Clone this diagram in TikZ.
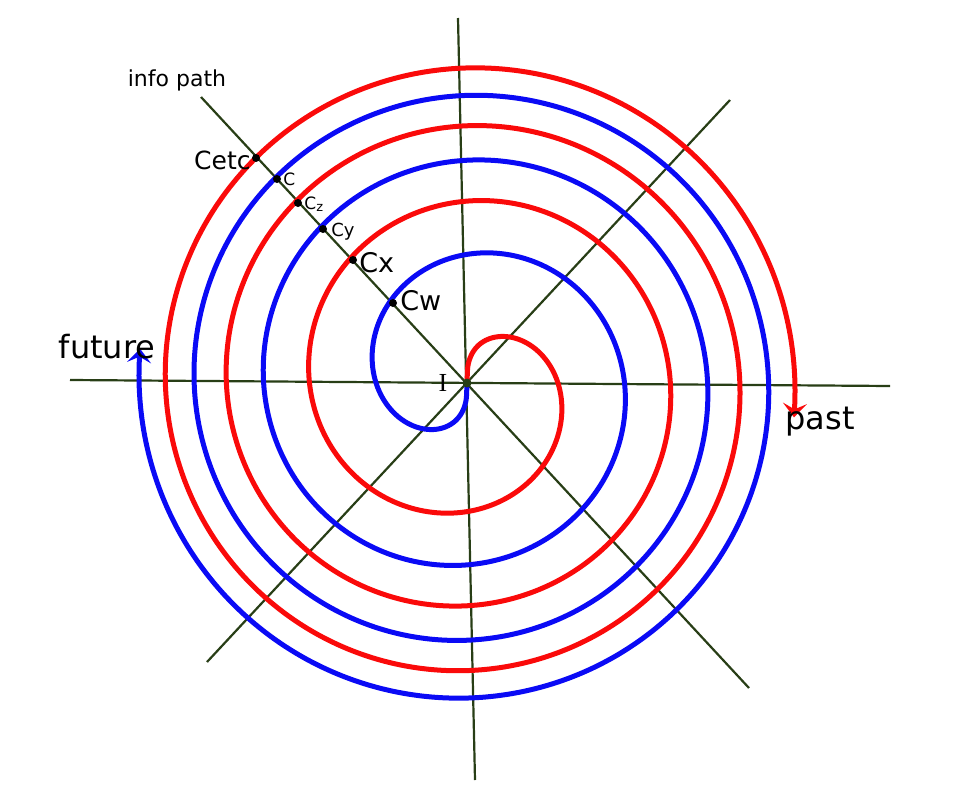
\documentclass[tikz,border=0pt]{standalone}
\usepackage{fontspec}
\setmainfont{DejaVu Sans}
\newfontfamily\serifI{Liberation Serif}
\usetikzlibrary{arrows.meta}
\definecolor{axisgreen}{RGB}{40,62,22}
\definecolor{sred}{RGB}{250,10,10}
\definecolor{sblue}{RGB}{10,10,245}
\tikzset{
  axisline/.style={draw=axisgreen,line width=2.2pt},
  spiral/.style={line width=5pt,smooth,line cap=round,-{Stealth[length=14pt,width=24pt,inset=6pt]}},
  pointdot/.style={circle,fill=black,inner sep=0pt,minimum size=8pt},
  lbl/.style={inner sep=1pt,text=black}
}
\begin{document}
\begin{tikzpicture}[x=1pt,y=-1pt]
\useasboundingbox (0,0) rectangle (978,795);
\coordinate (O) at (467,383);
\coordinate (hl) at (70,380);
\coordinate (hr) at (890,386);
\coordinate (vt) at (458,18);
\coordinate (vb) at (475,780);
\coordinate (d1a) at (201,97);
\coordinate (d1b) at (749,688);
\coordinate (d2a) at (730,100);
\coordinate (d2b) at (207,662);
\draw[axisline] (hl) -- (hr);
\draw[axisline] (vt) -- (vb);
\draw[axisline] (d1a) -- (d1b);
\draw[axisline] (d2a) -- (d2b);
\draw[spiral,sred] plot[domain=0:1176,samples=500] ({467+9.587*sqrt(\x)*cos(\x-90)},{383+9.587*sqrt(\x)*sin(\x-90)});
\draw[spiral,sblue] plot[domain=0:1176,samples=500] ({467+9.587*sqrt(\x)*cos(\x+90)},{383+9.587*sqrt(\x)*sin(\x+90)});
\node[circle,fill=axisgreen,inner sep=0pt,minimum size=9pt] (center) at (O) {};
\node[lbl,font=\serifI\fontsize{26}{26}\selectfont] (I) at (443,383) {I};
\node[pointdot] (pcetc) at (256,158) {};
\node[pointdot] (pc) at (277,179) {};
\node[pointdot] (pcz) at (298,203) {};
\node[pointdot] (pcy) at (323,229) {};
\node[pointdot] (pcx) at (353,260) {};
\node[pointdot] (pcw) at (393,303) {};
\node[lbl,anchor=east,font=\fontsize{25}{25}\selectfont] (tcetc) at ([yshift=-2pt]pcetc.west) {Cetc};
\node[lbl,anchor=west,font=\fontsize{17}{17}\selectfont] (tc) at ([xshift=1pt]pc.east) {C};
\node[lbl,anchor=west,font=\fontsize{17}{17}\selectfont] (tcz) at ([xshift=1pt,yshift=-1pt]pcz.east) {C\raisebox{-2pt}{\fontsize{13}{13}\selectfont z}};
\node[lbl,anchor=west,font=\fontsize{18}{18}\selectfont] (tcy) at ([xshift=3pt,yshift=-3pt]pcy.east) {Cy};
\node[lbl,anchor=west,font=\fontsize{27}{27}\selectfont] (tcx) at ([xshift=1pt,yshift=-3pt]pcx.east) {Cx};
\node[lbl,anchor=west,font=\fontsize{27}{27}\selectfont] (tcw) at ([xshift=2pt,yshift=2pt]pcw.east) {Cw};
\node[lbl,font=\fontsize{22}{22}\selectfont] (info) at (177,80) {info path};
\node[lbl,font=\fontsize{32}{32}\selectfont] (future) at (107,347) {future};
\node[lbl,font=\fontsize{32}{32}\selectfont] (past) at (820,422) {past};
\end{tikzpicture}
\end{document}
